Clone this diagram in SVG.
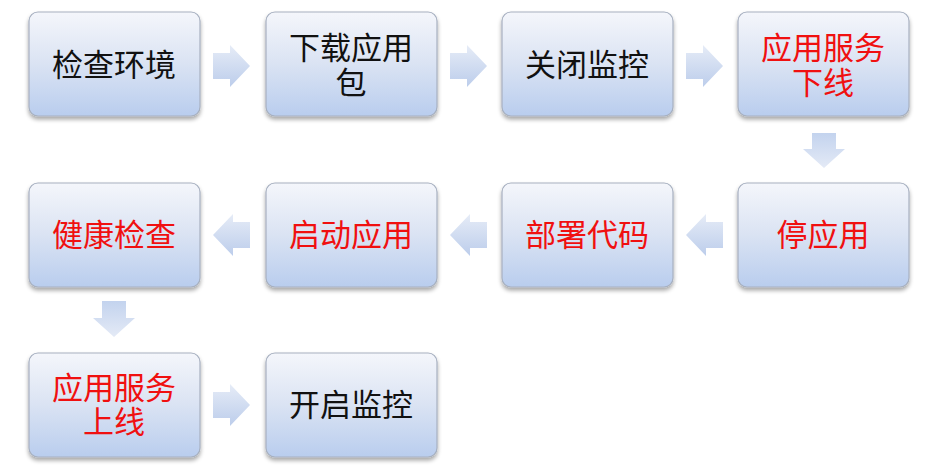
<svg xmlns="http://www.w3.org/2000/svg" width="925" height="471" viewBox="0 0 925 471">
<defs>
<linearGradient id="bg" x1="0" y1="0" x2="0" y2="1">
<stop offset="0" stop-color="#f4f6fb"/>
<stop offset="0.5" stop-color="#dae3f3"/>
<stop offset="1" stop-color="#b9cdee"/>
</linearGradient>
<linearGradient id="ah" x1="0" y1="0" x2="0" y2="1">
<stop offset="0" stop-color="#e6ecf7"/>
<stop offset="1" stop-color="#bccdeb"/>
</linearGradient>
<linearGradient id="av" x1="0" y1="0" x2="0" y2="1">
<stop offset="0" stop-color="#c3d3ee"/>
<stop offset="1" stop-color="#e4eaf6"/>
</linearGradient>
<filter id="sh" x="-10%" y="-10%" width="120%" height="130%">
<feGaussianBlur in="SourceAlpha" stdDeviation="2"/>
<feOffset dx="0" dy="3"/>
<feComponentTransfer><feFuncA type="linear" slope="0.35"/></feComponentTransfer>
<feMerge><feMergeNode/><feMergeNode in="SourceGraphic"/></feMerge>
</filter>
</defs>
<style>
.box{fill:url(#bg);stroke:#a7b0c0;stroke-width:1.2;filter:url(#sh)}
.t{font-family:"Liberation Sans","Noto Sans CJK SC",sans-serif;font-size:31px;text-anchor:middle;dominant-baseline:central}
.k{fill:#111}
.r{fill:#f01010}
.ar{fill:url(#ah)}
.av{fill:url(#av)}
</style>
<g id="connectors">
<path class="ar" d="M213,53 H230 V45 L250,66 L230,87 V79 H213 Z"/>
<path class="ar" d="M450,53 H467 V45 L487,66 L467,87 V79 H450 Z"/>
<path class="ar" d="M686,53 H703 V45 L723,66 L703,87 V79 H686 Z"/>
<path class="av" d="M812,133 H836 V149 H845 L824,168 L803,149 H812 Z"/>
<path class="ar" d="M723,222 H706 V214 L686,235 L706,256 V248 H723 Z"/>
<path class="ar" d="M487,222 H470 V214 L450,235 L470,256 V248 H487 Z"/>
<path class="ar" d="M250,222 H233 V214 L213,235 L233,256 V248 H250 Z"/>
<path class="av" d="M102,301 H126 V318 H135 L114,337 L93,318 H102 Z"/>
<path class="ar" d="M213,392 H230 V384 L250,405 L230,426 V418 H213 Z"/>
</g>
<g id="n1"><rect class="box" x="29" y="12" width="171" height="104" rx="9"/><text class="t k" x="114" y="65">检查环境</text></g>
<g id="n2"><rect class="box" x="266" y="12" width="171" height="104" rx="9"/><text class="t k" x="351" y="48">下载应用</text><text class="t k" x="351" y="83">包</text></g>
<g id="n3"><rect class="box" x="502" y="12" width="171" height="104" rx="9"/><text class="t k" x="587" y="65">关闭监控</text></g>
<g id="n4"><rect class="box" x="738" y="12" width="171" height="104" rx="9"/><text class="t r" x="823" y="48">应用服务</text><text class="t r" x="823" y="83">下线</text></g>
<g id="n5"><rect class="box" x="738" y="183" width="171" height="104" rx="9"/><text class="t r" x="823" y="235">停应用</text></g>
<g id="n6"><rect class="box" x="502" y="183" width="171" height="104" rx="9"/><text class="t r" x="587" y="235">部署代码</text></g>
<g id="n7"><rect class="box" x="266" y="183" width="171" height="104" rx="9"/><text class="t r" x="351" y="235">启动应用</text></g>
<g id="n8"><rect class="box" x="29" y="183" width="171" height="104" rx="9"/><text class="t r" x="114" y="235">健康检查</text></g>
<g id="n9"><rect class="box" x="29" y="353" width="171" height="104" rx="9"/><text class="t r" x="114" y="388">应用服务</text><text class="t r" x="114" y="422">上线</text></g>
<g id="n10"><rect class="box" x="266" y="353" width="171" height="104" rx="9"/><text class="t k" x="351" y="405">开启监控</text></g>
</svg>
